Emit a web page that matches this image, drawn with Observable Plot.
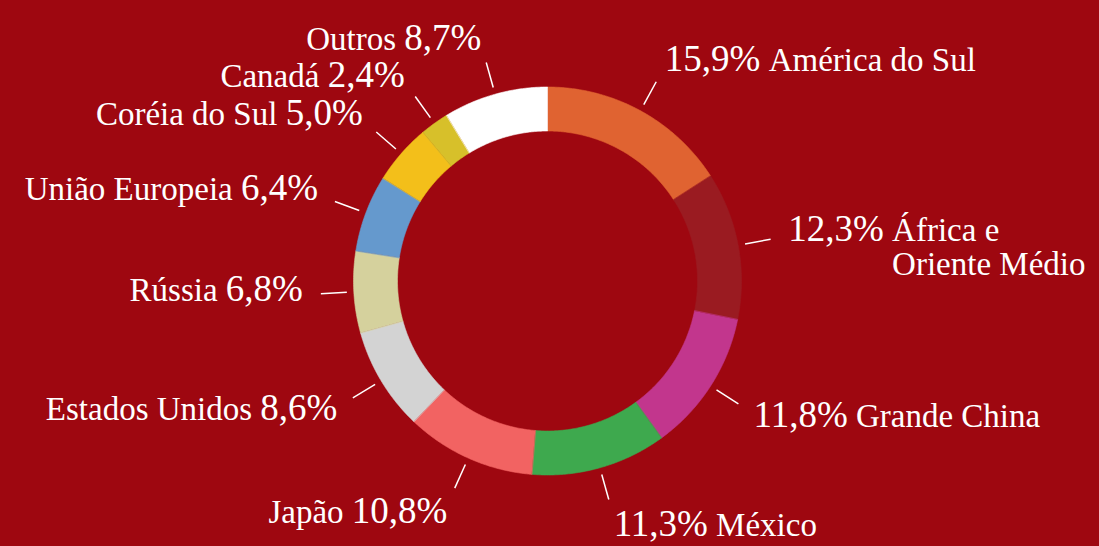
<!DOCTYPE html>
<html><head><meta charset="utf-8">
<script src="https://cdn.jsdelivr.net/npm/d3@7"></script>
<script src="https://cdn.jsdelivr.net/npm/@observablehq/plot@0.6"></script>
<style>
html,body{margin:0;padding:0;background:#9e0710;overflow:hidden;}
#chart{width:1099px;height:546px;}
svg{display:block;}
</style></head><body><div id="chart"></div>
<script>
// ---- data ----
const categories = ["América do Sul", "África e\nOriente Médio", "Grande China", "México", "Japão", "Estados Unidos", "Rússia", "União Europeia", "Coréia do Sul", "Canadá", "Outros"];
const shares = [15.9, 12.3, 11.8, 11.3, 10.8, 8.6, 6.8, 6.4, 5.0, 2.4, 8.7];
const valueLabels = ["15,9%", "12,3%", "11,8%", "11,3%", "10,8%", "8,6%", "6,8%", "6,4%", "5,0%", "2,4%", "8,7%"];
const colors = ["#e06331", "#9a1b21", "#c2368d", "#3ea94e", "#f26362", "#d3d3d3", "#d5d19d", "#6599cd", "#f3bf1a", "#d7c02a", "#ffffff"];

// ---- layout ----
const W = 1099, H = 546;
const cx = 547, cy = 280.5, R = 194, R0 = 150;
const leadIn = 201, leadOut = 227, textR = 245;
const font = "'Liberation Serif', 'Times New Roman', serif";
const numSize = 37, nameSize = 33, nameLH = 1.05;

const total = d3.sum(shares);
const pt = (a, rho) => [cx + rho * Math.sin(a), cy - rho * Math.cos(a)];

const ring = [], leaders = [], labels = [];
let acc = 0;
const ctx = document.createElement("canvas").getContext("2d");
const measure = (t, size) => { ctx.font = `${size}px ${font}`; return ctx.measureText(t).width; };

categories.forEach((cat, i) => {
  const a0 = acc / total * 2 * Math.PI;
  acc += shares[i];
  const a1 = acc / total * 2 * Math.PI;
  const n = Math.max(2, Math.ceil((a1 - a0) * 180 / Math.PI * 2));
  for (let k = 0; k <= n; ++k) { const [x, y] = pt(a0 + (a1 - a0) * k / n, R); ring.push({cat, x, y}); }
  for (let k = n; k >= 0; --k) { const [x, y] = pt(a0 + (a1 - a0) * k / n, R0); ring.push({cat, x, y}); }
  const am = (a0 + a1) / 2;
  const [x1, y1] = pt(am, leadIn), [x2, y2] = pt(am, leadOut);
  leaders.push({x1, y1, x2, y2});
  const [tx, ty] = pt(am, textR);
  const base = ty + 5 + 15 * Math.max(0, -Math.cos(am));
  const right = Math.sin(am) > 0;
  const nameLines = cat.split("\n");
  const nw = measure(valueLabels[i], numSize);
  const sp = measure(" ", nameSize);
  const nameY = base + (nameLines.length - 1) * nameLH * nameSize;
  if (right) {
    labels.push({side: "R", kind: "num", x: tx, y: base, text: valueLabels[i]});
    labels.push({side: "R", kind: "name", x: tx + nw + sp, y: nameY, text: cat});
  } else {
    labels.push({side: "L", kind: "num", x: tx, y: base, text: valueLabels[i]});
    labels.push({side: "L", kind: "name", x: tx - nw - sp, y: nameY, text: cat});
  }
});

const sel = (side, kind) => labels.filter(d => d.side === side && d.kind === kind);
const textOpts = (anchor, size) => ({x: "x", y: "y", text: "text", textAnchor: anchor, lineAnchor: "bottom",
  fontSize: size, fontFamily: font, fill: "#ffffff", lineHeight: nameLH});

const chart = Plot.plot({
  width: W, height: H,
  margin: 0,
  style: {background: "#9e0710", overflow: "visible"},
  x: {type: "linear", domain: [0, W], range: [0, W], axis: null},
  y: {type: "linear", domain: [0, H], range: [0, H], axis: null},
  color: {type: "ordinal", domain: categories, range: colors},
  marks: [
    Plot.line(ring, {x: "x", y: "y", z: "cat", fill: "cat", stroke: "cat", strokeWidth: 0.6, curve: "linear-closed"}),
    Plot.link(leaders, {x1: "x1", y1: "y1", x2: "x2", y2: "y2", stroke: "#ffffff", strokeWidth: 1.5}),
    Plot.text(sel("R", "num"), textOpts("start", numSize)),
    Plot.text(sel("L", "num"), textOpts("end", numSize)),
    Plot.text(sel("R", "name"), textOpts("start", nameSize)),
    Plot.text(sel("L", "name"), textOpts("end", nameSize))
  ]
});
document.getElementById("chart").appendChild(chart);
</script>
</body></html>
